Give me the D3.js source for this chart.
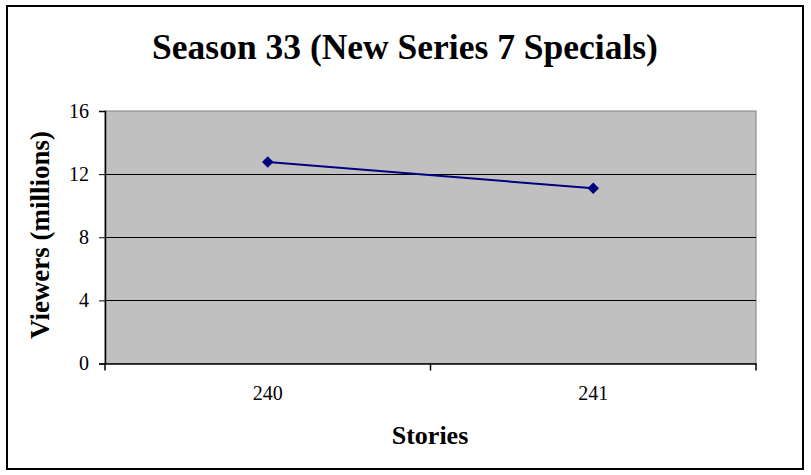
<!DOCTYPE html>
<html><head><meta charset="utf-8">
<script src="https://cdn.jsdelivr.net/npm/d3@7"></script>
<style>body{margin:0;background:#fff}svg{display:block}</style>
</head><body>
<svg id="c" width="811" height="475"></svg>
<script>
const title = "Season 33 (New Series 7 Specials)";
const xTitle = "Stories";
const yTitle = "Viewers (millions)";
const categories = ["240", "241"];
const viewers = [12.77, 11.1];
const yTicks = [0, 4, 8, 12, 16];

const FONT = "'Liberation Serif', 'Times New Roman', serif";
const svg = d3.select("#c");
const m = {l:105, t:111, r:756, b:363.5};

svg.append("rect").attr("x",7).attr("y",6).attr("width",796).attr("height",463)
  .attr("fill","#fff").attr("stroke","#000").attr("stroke-width",2);

const x = d3.scaleBand().domain(categories).range([m.l, m.r]);
const y = d3.scaleLinear().domain([0,16]).range([m.b, m.t]);

svg.append("rect").attr("x",m.l).attr("y",m.t).attr("width",m.r-m.l).attr("height",m.b-m.t)
  .attr("fill","#c0c0c0").attr("stroke","#808080").attr("stroke-width",1);

svg.append("g").selectAll("line").data(yTicks.filter(d=>d>0 && d<16)).join("line")
  .attr("x1",m.l).attr("x2",m.r).attr("y1",d=>Math.round(y(d))+0.5).attr("y2",d=>Math.round(y(d))+0.5)
  .attr("stroke","#000").attr("stroke-width",1);

const yAxis = svg.append("g").attr("transform",`translate(${m.l},0)`)
  .call(d3.axisLeft(y).tickValues(yTicks).tickSize(6).tickPadding(10));
yAxis.attr("font-family", null);
yAxis.select(".domain").attr("stroke","#000").attr("stroke-width",1.5);
yAxis.selectAll(".tick line").attr("stroke","#000");
yAxis.selectAll("text").style("font-size","20px").attr("fill","#000").style("font-family",FONT);

const xAxis = svg.append("g").attr("transform",`translate(0,${m.b})`)
  .call(d3.axisBottom(x).tickSize(0).tickPadding(22));
xAxis.attr("font-family", null);
xAxis.select(".domain").attr("stroke","#000").attr("stroke-width",1.5);
xAxis.selectAll("text").style("font-size","20px").attr("fill","#000").style("font-family",FONT);
const bounds = [m.l, ...categories.slice(1).map(c=>x(c)), m.r];
svg.append("g").selectAll("line").data(bounds).join("line")
  .attr("x1",d=>d).attr("x2",d=>d).attr("y1",m.b).attr("y2",m.b+7).attr("stroke","#000").attr("stroke-width",1.5);

const pts = categories.map((c,i)=>[x(c)+x.bandwidth()/2, y(viewers[i])]);
svg.append("path").attr("d",d3.line()(pts)).attr("fill","none").attr("stroke","#000080").attr("stroke-width",2);
svg.append("g").selectAll("path").data(pts).join("path")
  .attr("transform",d=>`translate(${d[0]},${d[1]})`)
  .attr("d",d3.symbol(d3.symbolDiamond2 || d3.symbolDiamond, 85)())
  .attr("fill","#000080");

svg.append("text").attr("x",405).attr("y",59).attr("text-anchor","middle")
  .style("font-family",FONT).style("font-size","35.5px").style("font-weight","bold").text(title);
svg.append("text").attr("x",430).attr("y",444).attr("text-anchor","middle")
  .style("font-family",FONT).style("font-size","26px").style("font-weight","bold").text(xTitle);
svg.append("text").attr("transform","translate(49,235) rotate(-90)").attr("text-anchor","middle")
  .style("font-family",FONT).style("font-size","27px").style("font-weight","bold").text(yTitle);
</script>
</body></html>
